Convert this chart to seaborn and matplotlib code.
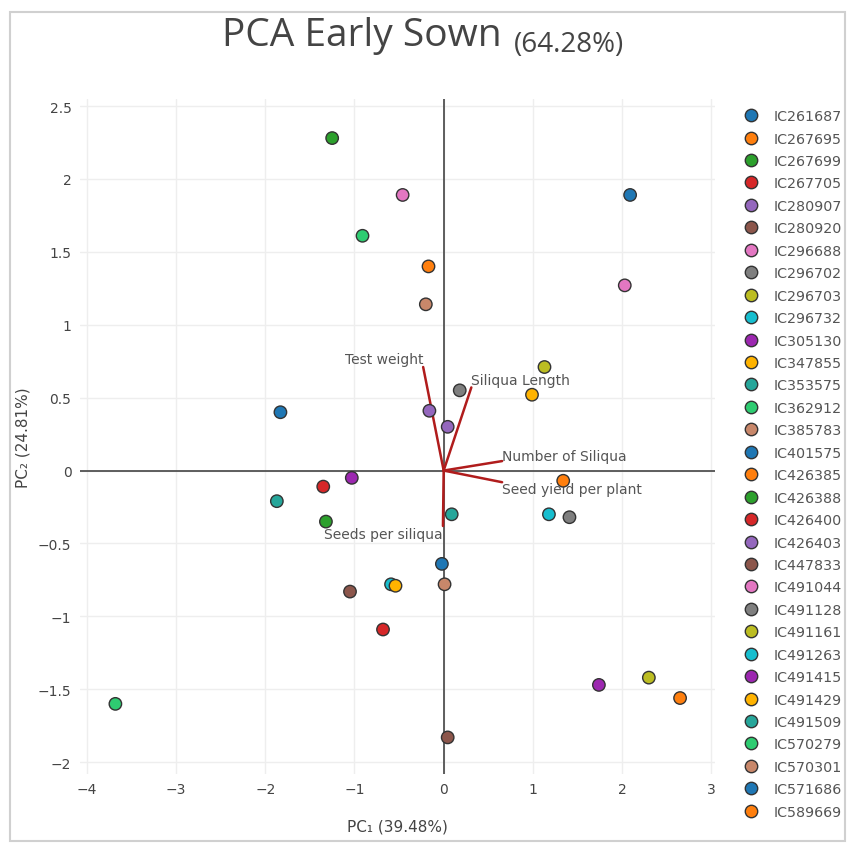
# PCA Early Sown biplot - scores per genotype with loading vectors

import pandas as pd
import matplotlib
matplotlib.use('Agg')
import matplotlib.pyplot as plt
import matplotlib.patches as mpatches
import seaborn as sns

# ------------------------------------------------------
# DATA
# ------------------------------------------------------

genotypes = ['IC261687', 'IC267695', 'IC267699', 'IC267705', 'IC280907', 'IC280920',
             'IC296688', 'IC296702', 'IC296703', 'IC296732', 'IC305130', 'IC347855',
             'IC353575', 'IC362912', 'IC385783', 'IC401575', 'IC426385', 'IC426388',
             'IC426400', 'IC426403', 'IC447833', 'IC491044', 'IC491128', 'IC491161',
             'IC491263', 'IC491415', 'IC491429', 'IC491509', 'IC570279', 'IC570301',
             'IC571686', 'IC589669']

pc1 = [2.09, -0.17, -1.25, -1.35, -0.16, -1.05,
       -0.46, 0.18, 1.13, 1.18, -1.03, 0.99,
       -1.87, -0.91, -0.20, -1.83, 1.34, -1.32,
       -0.68, 0.045, 0.045, 2.03, 1.41, 2.30,
       -0.59, 1.74, -0.54, 0.09, -3.68, 0.01,
       -0.02, 2.65]

pc2 = [1.89, 1.40, 2.28, -0.11, 0.41, -0.83,
       1.89, 0.55, 0.71, -0.30, -0.05, 0.52,
       -0.21, 1.61, 1.14, 0.40, -0.07, -0.35,
       -1.09, 0.30, -1.83, 1.27, -0.32, -1.42,
       -0.78, -1.47, -0.79, -0.30, -1.60, -0.78,
       -0.64, -1.56]

traits = ['Test weight', 'Siliqua Length', 'Number of Siliqua',
          'Seed yield per plant', 'Seeds per siliqua']
load1 = [-0.23, 0.31, 0.655, 0.655, -0.008]
load2 = [0.71, 0.57, 0.065, -0.08, -0.38]

# colour cycle used by the original chart (15 colours, repeating)
cycle = ['#1f77b4', '#ff7f0e', '#2ca02c', '#d62728', '#9467bd', '#8c564b',
         '#e377c2', '#7f7f7f', '#bcbd22', '#17becf', '#9c27b0', '#ffb300',
         '#26a69a', '#2ecc71', '#c8876a']
palette = [cycle[i % len(cycle)] for i in range(len(genotypes))]

df = pd.DataFrame({'Genotype': genotypes, 'PC1': pc1, 'PC2': pc2})

# ------------------------------------------------------
# PLOT
# ------------------------------------------------------

sns.set_style('white')
plt.rcParams['font.family'] = ['DejaVu Sans']

fig = plt.figure(figsize=(8.48, 8.45), dpi=100)
ax = fig.add_axes([0.094, 0.083, 0.749, 0.799])

# frame around the whole chart
fig.patches.append(mpatches.Rectangle((0.012, 0.003), 0.985, 0.982, transform=fig.transFigure,
                                      fill=False, edgecolor='#d0d0d0', linewidth=1.5))

# zero lines
ax.axhline(0, color='#444444', linewidth=1.2, zorder=1)
ax.axvline(0, color='#444444', linewidth=1.2, zorder=1)

# loading vectors
for t, lx, ly in zip(traits, load1, load2):
    ax.plot([0, lx], [0, ly], color='#b01c1c', linewidth=1.8, zorder=2)

ax.text(load1[0], load2[0] + 0.01, traits[0], ha='right', va='bottom', fontsize=10, color='#555555')
ax.text(load1[1], load2[1] + 0.0, traits[1], ha='left', va='bottom', fontsize=10, color='#555555')
ax.text(load1[2], load2[2] - 0.01, traits[2], ha='left', va='bottom', fontsize=10, color='#555555')
ax.text(load1[3], load2[3] - 0.0, traits[3], ha='left', va='top', fontsize=10, color='#555555')
ax.text(load1[4], load2[4] - 0.01, traits[4], ha='right', va='top', fontsize=10, color='#555555')

# scores
sns.scatterplot(data=df, x='PC1', y='PC2', hue='Genotype', palette=palette,
                s=80, edgecolor='#333333', linewidth=1, ax=ax, zorder=3, legend=True)

handles, labels = ax.get_legend_handles_labels()
ax.legend(handles, labels, loc='upper left', bbox_to_anchor=(1.025, 0.993), frameon=False,
          fontsize=10.3, labelcolor='#555555', handletextpad=0.6, labelspacing=0.59,
          markerscale=1.0, borderaxespad=0)

ax.set_xlim(-4.08, 3.04)
ax.set_ylim(-2.08, 2.55)
ax.set_xticks([-4, -3, -2, -1, 0, 1, 2, 3])
ax.set_yticks([-2, -1.5, -1, -0.5, 0, 0.5, 1, 1.5, 2, 2.5])
ax.set_yticklabels(['\u22122', '\u22121.5', '\u22121', '\u22120.5', '0', '0.5', '1', '1.5', '2', '2.5'])
ax.set_xticklabels(['\u22124', '\u22123', '\u22122', '\u22121', '0', '1', '2', '3'])
ax.grid(True, color='#eeeeee', linewidth=1)
ax.set_axisbelow(True)
for s in ax.spines.values():
    s.set_visible(False)
ax.tick_params(axis='both', labelsize=10, labelcolor='#444444', length=0, pad=6)

ax.set_xlabel('PC\u2081 (39.48%)', fontsize=11, color='#444444', labelpad=16)
ax.set_ylabel('PC\u2082 (24.81%)', fontsize=11, color='#444444', labelpad=5)

# title in two parts
fig.text(0.592, 0.9456, 'PCA Early Sown', ha='right', va='baseline',
         fontsize=28, color='#444444', family=['Open Sans', 'DejaVu Sans'])
fig.text(0.606, 0.938, '(64.28%)', ha='left', va='baseline',
         fontsize=20, color='#444444', family=['Open Sans', 'DejaVu Sans'])

plt.savefig('out.png', dpi=100)
plt.close('all')
